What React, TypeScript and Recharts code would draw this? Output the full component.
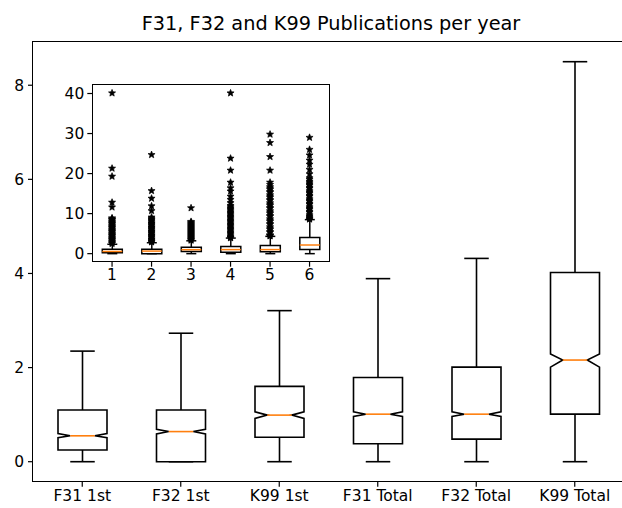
import React from "react";
import { ComposedChart, Bar, Scatter, XAxis, YAxis } from "recharts";

const categories = ["F31 1st", "F32 1st", "K99 1st", "F31 Total", "F32 Total", "K99 Total"];
const insetLabels = ["1", "2", "3", "4", "5", "6"];

const whiskerLow = [0, 0, 0, 0, 0, 0];
const q1 = [0.25, 0, 0.52, 0.38, 0.48, 1.01];
const median = [0.55, 0.64, 0.99, 1.01, 1.01, 2.16];
const q3 = [1.1, 1.1, 1.6, 1.79, 2.01, 4.02];
const whiskerHigh = [2.35, 2.73, 3.21, 3.89, 4.32, 8.5];
const notchLow = [0.51, 0.59, 0.92, 0.96, 0.96, 2.01];
const notchHigh = [0.6, 0.69, 1.06, 1.06, 1.06, 2.29];

const mainTicks = [0, 2, 4, 6, 8];
const insetTicks = [0, 10, 20, 30, 40];

// fliers shown in the inset
const out1 = [40.1, 21.3, 19.3, 12.8, 11.6, 8.9, 8.67, 8.5, 8.33, 8, 7.75, 7.5, 7.33, 7, 6.75, 6.5, 6.33, 6, 5.75, 5.5, 5.33, 5, 4.75, 4.5, 4.33, 4, 3.75, 3.5, 3.33, 3, 2.75, 2.5];
const out2 = [24.7, 15.7, 13.8, 11.9, 10.7, 9.1, 8.75, 8.5, 8.33, 8, 7.67, 7.5, 7.25, 7, 6.67, 6.5, 6.25, 6, 5.67, 5.5, 5.25, 5, 4.67, 4.5, 4.25, 4, 3.67, 3.5, 3.25, 3, 2.9];
const out3 = [11.4, 8, 7.75, 7.5, 7.25, 7, 6.75, 6.5, 6.25, 6, 5.75, 5.5, 5.25, 5, 4.75, 4.5, 4.25, 4, 3.75, 3.5, 3.33];
const out4 = [40.1, 23.8, 20.8, 17.8, 16.4, 15.6, 14.3, 13.5, 12.7, 12, 11.67, 11.33, 11, 10.67, 10.33, 10, 9.67, 9.33, 9, 8.67, 8.33, 8, 7.67, 7.33, 7, 6.67, 6.33, 6, 5.67, 5.33, 5, 4.67, 4.33, 4, 3.95];
const out5 = [29.8, 27.7, 24.2, 20.8, 17.8, 17.25, 16.67, 16.33, 16, 15.5, 15.25, 14.67, 14.33, 14, 13.5, 13.25, 12.67, 12.33, 12, 11.5, 11.25, 10.67, 10.33, 10, 9.5, 9.25, 8.67, 8.33, 8, 7.5, 7.25, 6.67, 6.33, 6, 5.5, 5.25, 4.67, 4.5, 4.4];
const out6 = [29.0, 26.0, 24.6, 23.3, 22.3, 21.0, 19.9, 18.9, 18.5, 18, 17.67, 17.33, 17, 16.5, 16.25, 15.67, 15.33, 15, 14.5, 14.25, 13.67, 13.33, 13, 12.5, 12.25, 11.67, 11.33, 11, 10.5, 10.25, 9.67, 9.33, 9, 8.75, 8.6];
const outliers = [out1, out2, out3, out4, out5, out6];

const FONT = "DejaVu Sans";
const ORANGE = "#ff7f0e";

const buildRows = (names: string[]) =>
  names.map((name, i) => ({
    name,
    whisker: [whiskerLow[i], whiskerHigh[i]],
    box: [q1[i], q3[i]],
    median: median[i],
    notchLow: notchLow[i],
    notchHigh: notchHigh[i],
  }));

const mainRows = buildRows(categories);
const insetRows = buildRows(insetLabels);
const flierRows = outliers.flatMap((arr, i) => arr.map((v) => ({ x: i + 1, y: v })));

const makeWhisker = (sw: number) => (props: any) => {
  const { x, y, width, height } = props;
  const cx = x + width / 2;
  const cap = width / 4;
  return (
    <g stroke="#000" strokeWidth={sw} fill="none">
      <line x1={cx} x2={cx} y1={y} y2={y + height} />
      <line x1={cx - cap} x2={cx + cap} y1={y} y2={y} />
      <line x1={cx - cap} x2={cx + cap} y1={y + height} y2={y + height} />
    </g>
  );
};

const makeBox = (notched: boolean, sw: number) => (props: any) => {
  const { x, y, width, height, payload } = props;
  const [lo, hi] = payload.box;
  // map a value inside the box onto the bar's pixel span
  const py = (v: number) => y + (height * (hi - v)) / (hi - lo);
  const L = x;
  const R = x + width;
  const cx = x + width / 2;
  const m = py(payload.median);
  let d: string;
  let mx1 = L;
  let mx2 = R;
  if (notched) {
    const nl = py(payload.notchLow);
    const nh = py(payload.notchHigh);
    const iL = cx - width / 4;
    const iR = cx + width / 4;
    mx1 = iL;
    mx2 = iR;
    d = `M${L},${y + height}L${R},${y + height}L${R},${nl}L${iR},${m}L${R},${nh}L${R},${y}L${L},${y}L${L},${nh}L${iL},${m}L${L},${nl}Z`;
  } else {
    d = `M${L},${y + height}L${R},${y + height}L${R},${y}L${L},${y}Z`;
  }
  return (
    <g>
      <path d={d} fill="#fff" stroke="#000" strokeWidth={sw} strokeLinejoin="miter" />
      <line x1={mx1} x2={mx2} y1={m} y2={m} stroke={ORANGE} strokeWidth={sw} />
    </g>
  );
};

const Star = (props: any) => {
  const { cx, cy } = props;
  const pts: string[] = [];
  for (let k = 0; k < 10; k++) {
    const r = k % 2 === 0 ? 3.7 : 1.6;
    const a = -Math.PI / 2 + (k * Math.PI) / 5;
    pts.push(`${cx + r * Math.cos(a)},${cy + r * Math.sin(a)}`);
  }
  return <polygon points={pts.join(" ")} fill="#000" stroke="#000" strokeWidth={0.7} />;
};

const tickStyle = { fill: "#000", fontSize: 15.5, fontFamily: FONT };

export default function App() {
  return (
    <div
      style={{
        position: "fixed",
        left: 0,
        top: 0,
        width: 622,
        height: 508,
        overflow: "hidden",
        background: "#fff",
      }}
    >
      <svg width={622} height={40} style={{ position: "absolute", left: 0, top: 0 }}>
        <text x={331} y={30} textAnchor="middle" fontFamily={FONT} fontSize={19.3} fill="#000">
          F31, F32 and K99 Publications per year
        </text>
      </svg>

      {/* main axes */}
      <div style={{ position: "absolute", left: 0, top: 0 }}>
        <ComposedChart
          width={624}
          height={508}
          data={mainRows}
          margin={{ top: 41.7, right: 0, bottom: 0, left: 0 }}
        >
          <XAxis
            xAxisId="a"
            dataKey="name"
            type="category"
            allowDuplicatedCategory={false}
            interval={0}
            height={26.3}
            axisLine={false}
            tickLine={{ stroke: "#000", strokeWidth: 1.2 }}
            tickSize={5}
            tickMargin={3}
            tick={tickStyle}
          />
          <XAxis xAxisId="b" dataKey="name" type="category" allowDuplicatedCategory={false} hide />
          <YAxis
            type="number"
            domain={[-0.425, 8.925]}
            ticks={mainTicks}
            width={33}
            axisLine={false}
            tickLine={{ stroke: "#000", strokeWidth: 1.2 }}
            tickSize={5}
            tickMargin={4}
            tick={tickStyle}
          />
          <Bar
            xAxisId="a"
            dataKey="whisker"
            barSize={49}
            isAnimationActive={false}
            shape={makeWhisker(1.6)}
          />
          <Bar
            xAxisId="b"
            dataKey="box"
            barSize={49}
            isAnimationActive={false}
            shape={makeBox(true, 1.6)}
          />
        </ComposedChart>
      </div>
      <div
        style={{
          position: "absolute",
          left: 32.4,
          top: 41.1,
          width: 620,
          height: 441.2,
          border: "1.2px solid #000",
          boxSizing: "border-box",
          pointerEvents: "none",
        }}
      />

      {/* inset axes */}
      <div
        style={{
          position: "absolute",
          left: 92.3,
          top: 84.7,
          width: 237,
          height: 177,
          background: "#fff",
        }}
      />
      <div style={{ position: "absolute", left: 60, top: 80 }}>
        <ComposedChart
          width={270}
          height={208}
          data={insetRows}
          margin={{ top: 4.7, right: 0.7, bottom: 0, left: 0 }}
        >
          <XAxis
            xAxisId="a"
            dataKey="name"
            type="category"
            allowDuplicatedCategory={false}
            interval={0}
            height={26.3}
            axisLine={false}
            tickLine={{ stroke: "#000", strokeWidth: 1.2 }}
            tickSize={5}
            tickMargin={2}
            tick={tickStyle}
          />
          <XAxis xAxisId="b" dataKey="name" type="category" allowDuplicatedCategory={false} hide />
          <XAxis xAxisId="num" dataKey="x" type="number" domain={[0.5, 6.5]} hide />
          <YAxis
            type="number"
            domain={[-2.01, 42.2]}
            ticks={insetTicks}
            width={32.3}
            axisLine={false}
            tickLine={{ stroke: "#000", strokeWidth: 1.2 }}
            tickSize={5}
            tickMargin={3}
            tick={tickStyle}
          />
          <Bar
            xAxisId="a"
            dataKey="whisker"
            barSize={20}
            isAnimationActive={false}
            shape={makeWhisker(1.5)}
          />
          <Bar
            xAxisId="b"
            dataKey="box"
            barSize={20}
            isAnimationActive={false}
            shape={makeBox(false, 1.5)}
          />
          <Scatter
            xAxisId="num"
            data={flierRows}
            dataKey="y"
            isAnimationActive={false}
            shape={Star}
          />
        </ComposedChart>
      </div>
      <div
        style={{
          position: "absolute",
          left: 91.7,
          top: 84.1,
          width: 238.2,
          height: 178.2,
          border: "1.2px solid #000",
          boxSizing: "border-box",
          pointerEvents: "none",
        }}
      />
    </div>
  );
}
